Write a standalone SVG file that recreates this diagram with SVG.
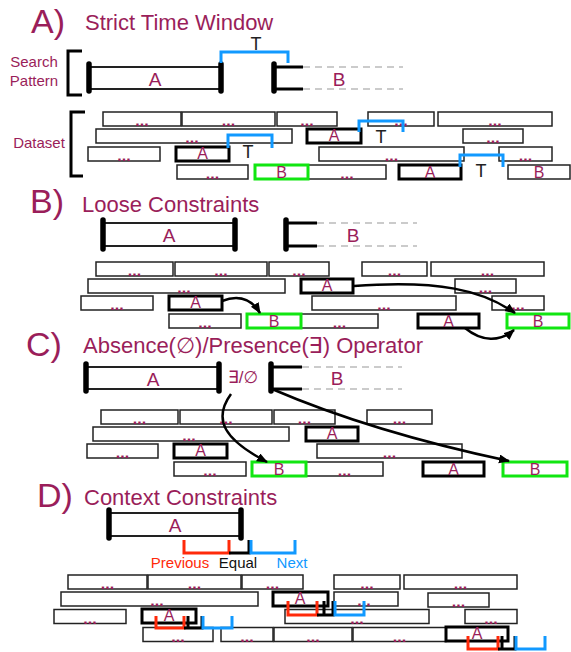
<svg xmlns="http://www.w3.org/2000/svg" width="571" height="652" viewBox="0 0 571 652">
<style>
text{font-family:"Liberation Sans","DejaVu Sans",sans-serif}
.m{fill:#9A1E5A}
.big{font-size:34px}
.ttl{font-size:22px}
.side{font-size:15px;text-anchor:middle}
.box{fill:#fff;stroke:#222;stroke-width:1.5}
.hit{fill:#fff;stroke:#000;stroke-width:3}
.grn{fill:#fff;stroke:#11E611;stroke-width:3}
.dots{font-size:16px;font-weight:bold;fill:#9A1E5A;text-anchor:middle}
.lbl{font-size:16px;fill:#9A1E5A;text-anchor:middle}
.plbl{font-size:19px;fill:#9A1E5A;text-anchor:middle}
.cap{stroke:#000;stroke-width:5.5;stroke-linecap:round}
.pat{fill:#fff;stroke:#222;stroke-width:2}
.pl{stroke:#000;stroke-width:3}
.dash{stroke:#bbb;stroke-width:1.5;stroke-dasharray:7 5}
.brk{fill:none;stroke:#000;stroke-width:3}
.blue{fill:none;stroke:#1199FF;stroke-width:3}
.red{fill:none;stroke:#FF2A0A;stroke-width:3}
.blk{fill:none;stroke:#000;stroke-width:3}
.t{font-size:18px;fill:#222;text-anchor:middle}
.arr{fill:none;stroke:#000;stroke-width:2.5;marker-end:url(#ah)}
</style>
<defs>
<marker id="ah" markerUnits="userSpaceOnUse" markerWidth="12" markerHeight="10" refX="10" refY="4.5" orient="auto">
<path d="M0,0 L11,4.5 L0,9 z" fill="#000"/>
</marker>
</defs>
<rect width="571" height="652" fill="#fff"/>

<!-- ===== Section A ===== -->
<g id="titleA">
<text x="31" y="33" class="m big">A)</text>
<text x="85" y="30" class="m ttl">Strict Time Window</text>
</g>
<g id="searchLabel">
<text x="34" y="67" class="m side">Search</text>
<text x="34" y="86" class="m side">Pattern</text>
<path class="brk" d="M82,51 H68 V95 H82"/>
</g>
<g id="datasetLabelA">
<text x="39" y="147.5" class="m side">Dataset</text>
<path class="brk" d="M85,112 H71 V176 H83"/>
</g>
<g id="patA-A">
<rect class="pat" x="89" y="67" width="132" height="22"/>
<line class="cap" x1="89" y1="64" x2="89" y2="91"/>
<line class="cap" x1="221" y1="64" x2="221" y2="91"/>
<text class="plbl" x="155" y="86">A</text>
</g>
<g id="patA-B">
<line class="dash" x1="303" y1="67" x2="403" y2="67"/>
<line class="dash" x1="303" y1="89" x2="403" y2="89"/>
<line class="pl" x1="274" y1="67" x2="303" y2="67"/>
<line class="pl" x1="274" y1="89" x2="303" y2="89"/>
<line class="cap" x1="274" y1="64" x2="274" y2="91"/>
<text class="plbl" x="339" y="86">B</text>
</g>

<g id="dataA">
<g id="a11"><rect class="box" x="103" y="112" width="78" height="14"/><text class="dots" x="142" y="126">...</text></g>
<g id="a12"><rect class="box" x="182" y="112" width="93" height="14"/><text class="dots" x="228.5" y="126">...</text></g>
<g id="a13"><rect class="box" x="277" y="112" width="60" height="14"/><text class="dots" x="307" y="126">...</text></g>
<g id="a14"><rect class="box" x="368" y="112" width="66" height="14"/><text class="dots" x="401" y="126">...</text></g>
<g id="a15"><rect class="box" x="438" y="112" width="114" height="14"/><text class="dots" x="495" y="126">...</text></g>
<g id="a21"><rect class="box" x="96" y="129" width="196" height="14"/><text class="dots" x="192" y="143">...</text></g>
<g id="a22"><rect class="hit" x="307" y="129" width="54" height="14"/><text class="lbl" x="334" y="141">A</text></g>
<g id="a23"><rect class="box" x="463" y="129" width="60" height="14"/><text class="dots" x="493" y="143">...</text></g>
<g id="a31"><rect class="box" x="88" y="147" width="72" height="14"/><text class="dots" x="124" y="161">...</text></g>
<g id="a32"><rect class="hit" x="176" y="147" width="53" height="14"/><text class="lbl" x="202.5" y="159">A</text></g>
<g id="a33"><rect class="box" x="319" y="147" width="145" height="14"/><text class="dots" x="391.5" y="161">...</text></g>
<g id="a34"><rect class="box" x="499" y="147" width="53" height="14"/><text class="dots" x="525.5" y="161">...</text></g>
<g id="a41"><rect class="box" x="177" y="165" width="71" height="14"/><text class="dots" x="212.5" y="179">...</text></g>
<g id="a43"><rect class="box" x="308" y="165" width="78" height="14"/><text class="dots" x="347" y="179">...</text></g>
<g id="a42"><rect class="grn" x="255" y="165" width="53" height="14"/><text class="lbl" x="281.5" y="177.5">B</text></g>
<g id="a44"><rect class="hit" x="399" y="165" width="62" height="14"/><text class="lbl" x="430" y="177.5">A</text></g>
<g id="a45"><rect class="box" x="508" y="165" width="62" height="14"/><text class="lbl" x="539" y="177.5">B</text></g>
</g>

<!-- ===== Section B ===== -->
<g id="titleB">
<text x="30" y="213" class="m big">B)</text>
<text x="82" y="212" class="m ttl">Loose Constraints</text>
</g>
<g id="patB-A">
<rect class="pat" x="103" y="223" width="132" height="23"/>
<line class="cap" x1="103" y1="220" x2="103" y2="249"/>
<line class="cap" x1="235" y1="220" x2="235" y2="249"/>
<text class="plbl" x="169" y="242">A</text>
</g>
<g id="patB-B">
<line class="dash" x1="317" y1="223" x2="417" y2="223"/>
<line class="dash" x1="317" y1="246" x2="417" y2="246"/>
<line class="pl" x1="286" y1="223" x2="317" y2="223"/>
<line class="pl" x1="286" y1="246" x2="317" y2="246"/>
<line class="cap" x1="286" y1="220" x2="286" y2="249"/>
<text class="plbl" x="353" y="242">B</text>
</g>
<g id="dataB">
<g id="b11"><rect class="box" x="96" y="262" width="77" height="14"/><text class="dots" x="134.5" y="276">...</text></g>
<g id="b12"><rect class="box" x="175" y="262" width="92" height="14"/><text class="dots" x="221" y="276">...</text></g>
<g id="b13"><rect class="box" x="269" y="262" width="60" height="14"/><text class="dots" x="299" y="276">...</text></g>
<g id="b14"><rect class="box" x="362" y="262" width="65" height="14"/><text class="dots" x="394.5" y="276">...</text></g>
<g id="b15"><rect class="box" x="431" y="262" width="113" height="14"/><text class="dots" x="487.5" y="276">...</text></g>
<g id="b21"><rect class="box" x="88" y="279" width="197" height="14"/><text class="dots" x="184" y="293">...</text></g>
<g id="b22"><rect class="hit" x="301" y="279" width="52" height="14"/><text class="lbl" x="327" y="291">A</text></g>
<g id="b23"><rect class="box" x="455" y="279" width="61" height="14"/><text class="dots" x="485.5" y="293">...</text></g>
<g id="b31"><rect class="box" x="81" y="296" width="72" height="14"/><text class="dots" x="117" y="310">...</text></g>
<g id="b32"><rect class="hit" x="169" y="296" width="53" height="14"/><text class="lbl" x="195.5" y="308">A</text></g>
<g id="b33"><rect class="box" x="312" y="296" width="144" height="14"/><text class="dots" x="384" y="310">...</text></g>
<g id="b34"><rect class="box" x="492" y="296" width="52" height="14"/><text class="dots" x="518" y="310">...</text></g>
<g id="b41"><rect class="box" x="169" y="314" width="72" height="14"/><text class="dots" x="205" y="328">...</text></g>
<g id="b43"><rect class="box" x="301" y="314" width="77" height="14"/><text class="dots" x="339.5" y="328">...</text></g>
<g id="b42"><rect class="grn" x="247" y="314" width="54" height="14"/><text class="lbl" x="274" y="326.5">B</text></g>
<g id="b44"><rect class="hit" x="418" y="314" width="61" height="14"/><text class="lbl" x="448.5" y="326.5">A</text></g>
<g id="b45"><rect class="grn" x="507" y="314" width="62" height="14"/><text class="lbl" x="538" y="326.5">B</text></g>
</g>

<!-- ===== Section C ===== -->
<g id="titleC">
<text x="26" y="356" class="m big">C)</text>
<text x="83" y="353" class="m ttl">Absence(∅)/Presence(∃) Operator</text>
</g>
<g id="patC-A">
<rect class="pat" x="86" y="367" width="133" height="22"/>
<line class="cap" x1="86" y1="364" x2="86" y2="391"/>
<line class="cap" x1="219" y1="364" x2="219" y2="391"/>
<text class="plbl" x="153" y="386">A</text>
</g>
<g id="opC"><text x="228" y="383" font-size="17" class="m">∃/∅</text></g>
<g id="patC-B">
<line class="dash" x1="302" y1="367" x2="402" y2="367"/>
<line class="dash" x1="302" y1="389" x2="402" y2="389"/>
<line class="pl" x1="271" y1="367" x2="302" y2="367"/>
<line class="pl" x1="271" y1="389" x2="302" y2="389"/>
<line class="cap" x1="271" y1="364" x2="271" y2="391"/>
<text class="plbl" x="337" y="385">B</text>
</g>
<g id="dataC">
<g id="c11"><rect class="box" x="101" y="410" width="77" height="14"/><text class="dots" x="139.5" y="424">...</text></g>
<g id="c12"><rect class="box" x="180" y="410" width="92" height="14"/><text class="dots" x="226" y="424">...</text></g>
<g id="c13"><rect class="box" x="274" y="410" width="61" height="14"/><text class="dots" x="304.5" y="424">...</text></g>
<g id="c14"><rect class="box" x="367" y="410" width="65" height="14"/><text class="dots" x="399.5" y="424">...</text></g>
<g id="c21"><rect class="box" x="93" y="427" width="196" height="14"/><text class="dots" x="189" y="441">...</text></g>
<g id="c22"><rect class="hit" x="306" y="427" width="52" height="14"/><text class="lbl" x="332" y="439">A</text></g>
<g id="c31"><rect class="box" x="87" y="444" width="71" height="14"/><text class="dots" x="122.5" y="458">...</text></g>
<g id="c32"><rect class="hit" x="174" y="444" width="53" height="14"/><text class="lbl" x="200.5" y="456">A</text></g>
<g id="c33"><rect class="box" x="317" y="444" width="145" height="14"/><text class="dots" x="389.5" y="458">...</text></g>
<g id="c41"><rect class="box" x="174" y="462" width="72" height="14"/><text class="dots" x="210" y="476">...</text></g>
<g id="c43"><rect class="box" x="306" y="462" width="77" height="14"/><text class="dots" x="344.5" y="476">...</text></g>
<g id="c42"><rect class="grn" x="252" y="462" width="54" height="14"/><text class="lbl" x="279" y="474.5">B</text></g>
<g id="c44"><rect class="hit" x="423" y="462" width="61" height="14"/><text class="lbl" x="453.5" y="474.5">A</text></g>
<g id="c45"><rect class="grn" x="503" y="462" width="64" height="14"/><text class="lbl" x="535" y="474.5">B</text></g>
</g>

<!-- ===== Section D ===== -->
<g id="titleD">
<text x="37" y="507" class="m big">D)</text>
<text x="84" y="505" class="m ttl">Context Constraints</text>
</g>
<g id="patD-A">
<rect class="pat" x="109" y="513" width="132" height="23"/>
<line class="cap" x1="109" y1="510" x2="109" y2="538"/>
<line class="cap" x1="241" y1="510" x2="241" y2="538"/>
<text class="plbl" x="175" y="532">A</text>
</g>
<g id="legendD">
<path class="red" d="M184,540 V553 H229 V540"/>
<path class="blk" d="M229,553 H249 V540"/>
<path class="blue" d="M251,540 V553 H295 V540"/>
<text x="180" y="568" font-size="15" fill="#FF2A0A" text-anchor="middle">Previous</text>
<text x="238" y="568" font-size="15" fill="#111" text-anchor="middle">Equal</text>
<text x="292" y="568" font-size="15" fill="#1199FF" text-anchor="middle">Next</text>
</g>
<g id="dataD">
<g id="d11"><rect class="box" x="68" y="575" width="79" height="14"/><text class="dots" x="107.5" y="589">...</text></g>
<g id="d12"><rect class="box" x="148" y="575" width="93" height="14"/><text class="dots" x="194.5" y="589">...</text></g>
<g id="d13"><rect class="box" x="242" y="575" width="61" height="14"/><text class="dots" x="272.5" y="589">...</text></g>
<g id="d14"><rect class="box" x="334" y="575" width="66" height="14"/><text class="dots" x="367" y="589">...</text></g>
<g id="d15"><rect class="box" x="404" y="575" width="113" height="14"/><text class="dots" x="460.5" y="589">...</text></g>
<g id="d21"><rect class="box" x="61" y="592" width="197" height="14"/><text class="dots" x="157" y="606">...</text></g>
<g id="d22"><rect class="hit" x="273" y="592" width="55" height="14"/><text class="lbl" x="300" y="604">A</text></g>
<g id="d23"><rect class="box" x="334" y="592" width="64" height="14"/><text class="dots" x="364" y="606">...</text></g>
<g id="d24"><rect class="box" x="428" y="593" width="61" height="14"/><text class="dots" x="458.5" y="607">...</text></g>
<g id="d31"><rect class="box" x="54" y="609.5" width="72" height="14"/><text class="dots" x="90" y="623.5">...</text></g>
<g id="d32"><rect class="hit" x="142" y="609" width="54" height="14"/><text class="lbl" x="169" y="621">A</text></g>
<g id="d33"><rect class="box" x="285" y="609.5" width="144" height="14"/><text class="dots" x="357" y="623.5">...</text></g>
<g id="d34"><rect class="box" x="465" y="609.5" width="52" height="14"/><text class="dots" x="491" y="623.5">...</text></g>
<g id="d41"><rect class="box" x="143" y="627.5" width="70" height="14"/><text class="dots" x="178" y="641.5">...</text></g>
<g id="d42"><rect class="box" x="221" y="627.5" width="52" height="14"/><text class="dots" x="247" y="641.5">...</text></g>
<g id="d43"><rect class="box" x="274" y="627.5" width="78" height="14"/><text class="dots" x="313" y="641.5">...</text></g>
<g id="d44"><rect class="box" x="353" y="627.5" width="93" height="14"/><text class="dots" x="399.5" y="641.5">...</text></g>
<g id="d45"><rect class="hit" x="446" y="627" width="62" height="14"/><text class="lbl" x="477" y="638.5">A</text></g>
</g>

<!-- ===== Connectors ===== -->
<g id="connectors">
<path class="blue" d="M221,63 V52 H288 V63"/>
<text class="t" x="256" y="50" font-size="16">T</text>
<path class="blue" d="M228,148 V135 H272 V148"/>
<text class="t" x="248" y="158">T</text>
<path class="blue" d="M359,132 V121 H403 V132"/>
<text class="t" x="381" y="143">T</text>
<path class="blue" d="M460,167 V155 H503 V167"/>
<text class="t" x="481" y="177">T</text>

<path class="arr" d="M222,301 C240,294 252,300 260,313"/>
<path class="arr" d="M354,286 C440,280 482,290 515,313"/>
<path class="arr" d="M465,328 C482,342 500,342 514,330"/>

<path class="arr" d="M231,394 C212,420 225,440 267,462"/>
<path class="arr" d="M272,389 Q372,432 509,461"/>

<path class="red" d="M156,616 V628 H184 V616"/>
<path class="blk" d="M184,628 H202 V616 M188,616 V628"/>
<path class="blue" d="M203,616 V628 H232 V616"/>

<path class="red" d="M288,601 V615 H317 V601"/>
<path class="blk" d="M317,615 H333 V601 M324,601 V615"/>
<path class="blue" d="M335,601 V615 H364 V601"/>

<path class="red" d="M468,636 V649 H498 V636"/>
<path class="blk" d="M498,649 H515 V636 M502,636 V649"/>
<path class="blue" d="M516,636 V649 H545 V636"/>
</g>
</svg>
